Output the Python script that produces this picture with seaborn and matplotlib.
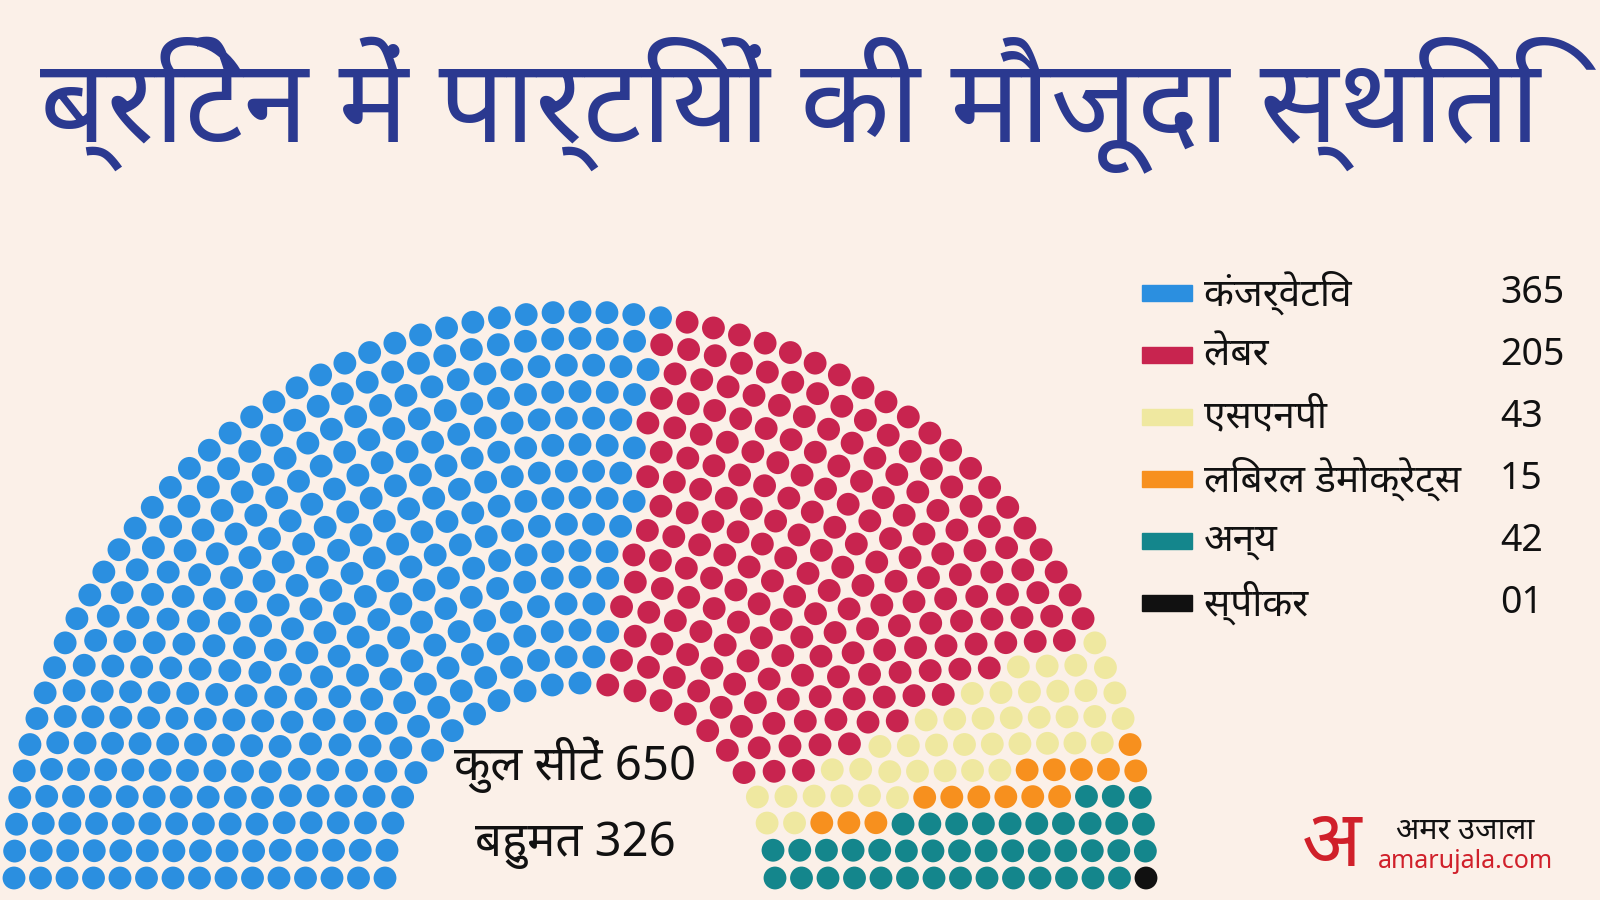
import numpy as np
import pandas as pd
import matplotlib
matplotlib.use("Agg")
import matplotlib.pyplot as plt
import seaborn as sns

parties = ["कंजर्वेटिव", "लेबर", "एसएनपी", "लिबरल डेमोक्रेट्स", "अन्य", "स्पीकर"]
seats = [365, 205, 43, 15, 42, 1]
seat_labels = ["365", "205", "43", "15", "42", "01"]
colors = ["#2b8fe0", "#c8244f", "#efe8a0", "#f7901e", "#14868c", "#111111"]
title = "ब्रिटेन में पार्टियों की मौजूदा स्थिति"
total_text = "कुल सीटें 650"
majority_text = "बहुमत 326"

sns.set_theme(style="white")
plt.rcParams['font.family'] = ['Noto Sans', 'DejaVu Sans']

total = sum(seats)
nrows = 15
cx, cy, r0, r1 = 580, 878, 195, 566
radii = np.linspace(r0, r1, nrows)
raw = radii / radii.sum() * total
counts = np.floor(raw).astype(int)
rem = total - counts.sum()
order = np.argsort(-(raw - counts))
for i in order[:rem]:
    counts[i] += 1
xs, ys, angs = [], [], []
for r, c in zip(radii, counts):
    a = np.linspace(np.pi, 0, c)
    xs += list(cx + r * np.cos(a)); ys += list(cy - r * np.sin(a)); angs += list(a)
df = pd.DataFrame({"x": xs, "y": ys, "a": angs}).sort_values("a", ascending=False).reset_index(drop=True)
df["party"] = np.repeat(parties, seats)

fig = plt.figure(figsize=(16, 9), dpi=100, facecolor="#fbf0e8")
ax = fig.add_axes([0, 0, 1, 1])
ax.set_facecolor("#fbf0e8")
sns.scatterplot(data=df, x="x", y="y", hue="party", palette=dict(zip(parties, colors)),
                s=270, linewidth=0, legend=False, ax=ax)
ax.set_xlim(0, 1600); ax.set_ylim(900, 0); ax.axis("off")

ax.text(790, 105, title, ha="center", va="center", fontsize=84, fontweight="bold", color="#2b3990")
ax.text(575, 765, total_text, ha="center", va="center", fontsize=34, fontweight="bold", color="#111")
ax.text(575, 845, majority_text, ha="center", va="center", fontsize=34, fontweight="bold", color="#111")

for i, (p, lab, col) in enumerate(zip(parties, seat_labels, colors)):
    y = 293 + i * 62
    ax.add_patch(plt.Rectangle((1142, y - 8), 50, 16, color=col))
    ax.text(1204, y, p, va="center", fontsize=28, fontweight="bold", color="#111")
    ax.text(1500, y, lab, va="center", fontsize=27, fontweight="bold", color="#111")

ax.text(1332, 845, "अ", ha="center", va="center", fontsize=56, fontweight="bold", color="#d0202a")
ax.text(1465, 830, "अमर उजाला", ha="center", va="center", fontsize=22, fontweight="bold", color="#111")
ax.text(1465, 862, "amarujala.com", ha="center", va="center", fontsize=18, fontweight="bold", color="#d0202a")

fig.savefig("out.png", dpi=100, facecolor=fig.get_facecolor())
